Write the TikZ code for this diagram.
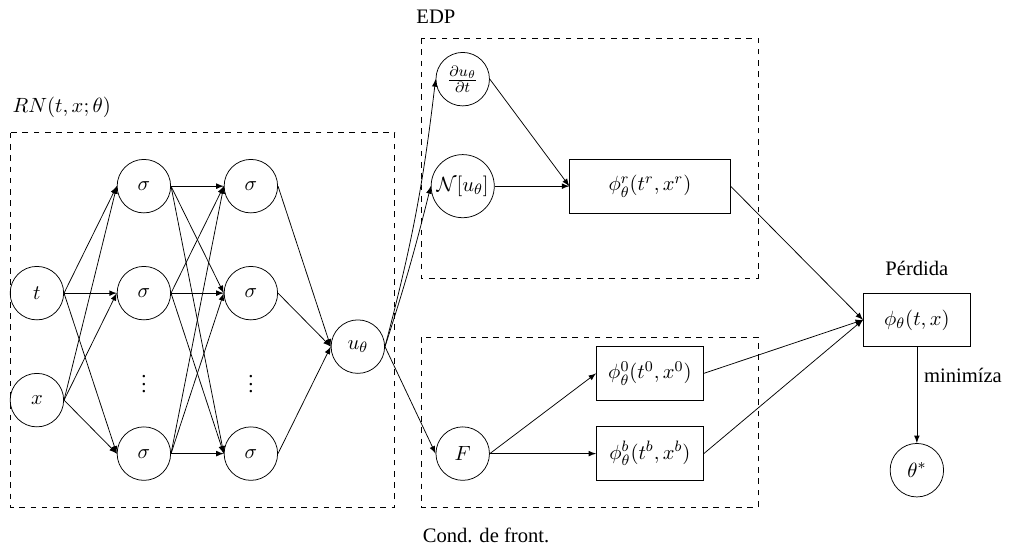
\documentclass[11pt,tikz,border=0pt]{standalone}
\usepackage{amsmath}
\usepackage[no-math]{fontspec}
\setmainfont{Liberation Serif}

\begin{document}
\begin{tikzpicture}[>=latex,
  neurona/.style={circle,draw,minimum size=1cm,inner sep=0pt},
  caja/.style={rectangle,draw,minimum height=1cm}]
  \useasboundingbox (-0.69,-4.71) rectangle (18.49,5.48);
  % red neuronal
  \draw[dashed](-0.5,3)rectangle(6.69,-4);
  \node[anchor=west] (rn) at (-0.59,3.48) {$RN(t,x;\theta)$};
  \node[neurona] (t) at (0,0) {$t$};
  \node[neurona] (x) at (0,-2) {$x$};
  \foreach \c in {1,2}{
    \node[neurona] (s\c1) at (2*\c,2) {$\sigma$};
    \node[neurona] (s\c2) at (2*\c,0) {$\sigma$};
    \node[neurona] (s\c3) at (2*\c,-3) {$\sigma$};
    \node (d\c) at (2*\c,-1.6) {$\vdots$};
  }
  \node[neurona] (u) at (6,-1) {$u_\theta$};
  \foreach \i in {t,x} \foreach \j in {1,2,3} \draw[->] (\i.east)--(s1\j.west);
  \foreach \i in {1,2,3} \foreach \j in {1,2,3} \draw[->] (s1\i.east)--(s2\j.west);
  \foreach \j in {1,2,3} \draw[->] (s2\j.east)--(u.west);
  % EDP
  \draw[dashed](7.18,4.77)rectangle(13.48,0.28);
  \node[anchor=west] (edp) at (6.96,5.16) {EDP};
  \node[neurona] (dudt) at (7.96,4) {$\frac{\partial u_\theta}{\partial t}$};
  \node[neurona,minimum size=1.18cm] (Nu) at (7.96,2) {$\mathcal{N}[u_\theta]$};
  \node[caja,minimum width=3cm] (phir) at (11.46,2) {$\phi_\theta^r(t^r,x^r)$};
  \draw[->] (u.east) to[bend right=4] (dudt.west);
  \draw[->] (u.east) to[bend right=2] (Nu.west);
  \draw[->] (dudt.east)--(phir.west);
  \draw[->] (Nu.east)--(phir.west);
  % condiciones de frontera
  \draw[dashed](7.18,-0.82)rectangle(13.48,-4);
  \node[anchor=west] (cf) at (7.08,-4.52) {Cond. de front.};
  \node[neurona] (F) at (7.96,-3) {$F$};
  \node[caja,minimum width=2cm] (phi0) at (11.46,-1.5) {$\phi_\theta^0(t^0,x^0)$};
  \node[caja,minimum width=2cm] (phib) at (11.46,-3) {$\phi_\theta^b(t^b,x^b)$};
  \draw[->] (u.east)--(F.west);
  \draw[->] (F.east)--(phi0.west);
  \draw[->] (F.east)--(phib.west);
  % perdida
  \node[caja,minimum width=2cm] (loss) at (16.45,-0.5) {$\phi_\theta(t,x)$};
  \node (perd) at (16.45,0.47) {Pérdida};
  \node[neurona] (theta) at (16.45,-3.31) {$\theta^*$};
  \foreach \i in {phir,phi0,phib} \draw[->] (\i.east)--(loss.west);
  \draw[->] (loss.south)--(theta.north) node[pos=0.3,right] {minimíza};
\end{tikzpicture}
\end{document}
